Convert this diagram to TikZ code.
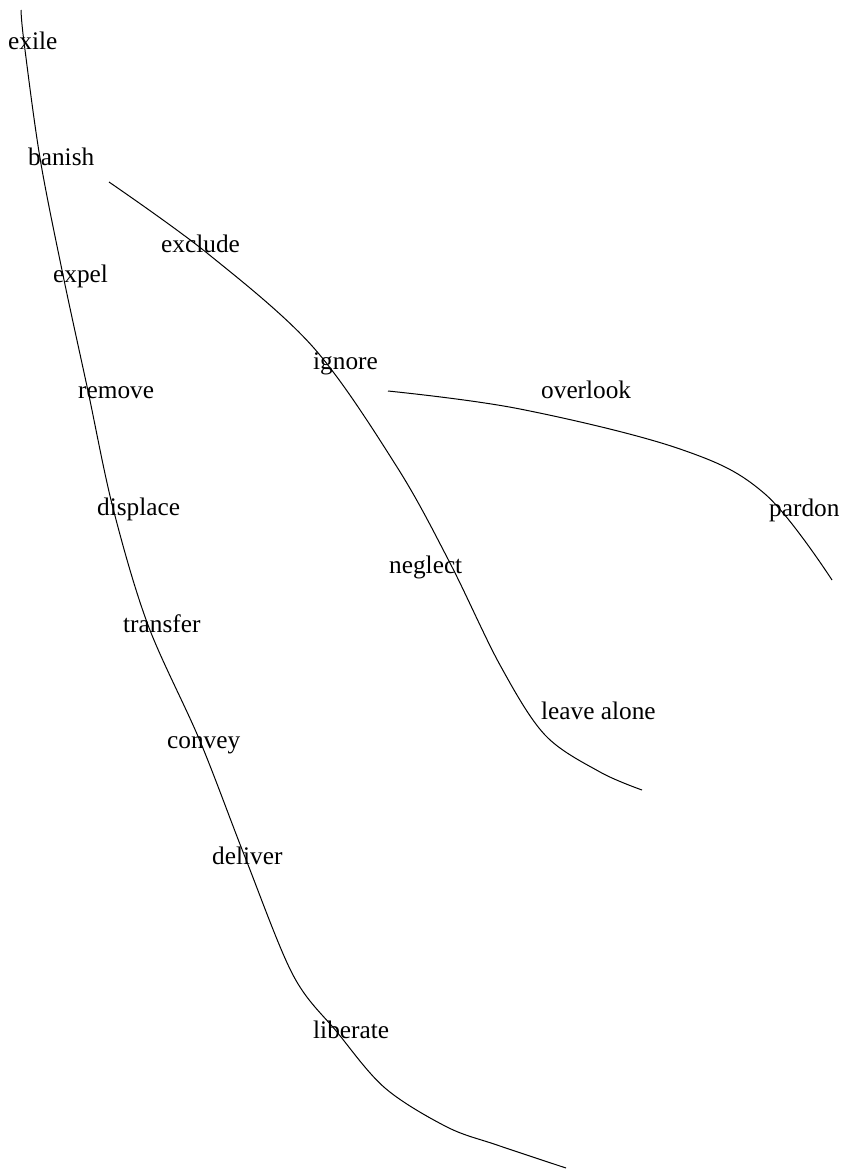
\documentclass[tikz,border=0pt]{standalone}
\usepackage{fontspec}
\setmainfont{Liberation Serif}
\begin{document}
\begin{tikzpicture}[x=1pt,y=-1pt,
  word/.style={anchor=base west,inner sep=0pt,font=\fontsize{25.3}{29}\selectfont},
  branch/.style={line width=1pt,black}]
\useasboundingbox[fill=white] (0,0) rectangle (844,1170);
% labels
\node[word] (exile) at (8,49) {exile};
\node[word] (banish) at (28,165) {banish};
\node[word] (exclude) at (161,252) {exclude};
\node[word] (expel) at (53,282) {expel};
\node[word] (ignore) at (313,369) {ignore};
\node[word] (overlook) at (541,398) {overlook};
\node[word] (remove) at (78,398) {remove};
\node[word] (displace) at (97,515) {displace};
\node[word] (pardon) at (769,516) {pardon};
\node[word] (neglect) at (389,573) {neglect};
\node[word] (transfer) at (123,632) {transfer};
\node[word] (leavealone) at (541,719) {leave alone};
\node[word] (convey) at (167,748) {convey};
\node[word] (deliver) at (212,864) {deliver};
\node[word] (liberate) at (313,1038) {liberate};
% curves
\draw[branch] plot[smooth,tension=0.55] coordinates {(21,10) (24,42) (40,158) (63,275) (88,391) (113,508) (148,625) (200,741) (245,857) (293,975) (337,1032) (385,1088) (447,1127) (497,1145) (566,1168)};
\draw[branch] plot[smooth,tension=0.55] coordinates {(109,182) (207,253) (313,347) (397,467) (450,563) (500,665) (545,735) (600,772) (642,790)};
\draw[branch] plot[smooth,tension=0.6] coordinates {(388,391) (520,409) (680,449) (765,494) (832,580)};
\end{tikzpicture}
\end{document}
